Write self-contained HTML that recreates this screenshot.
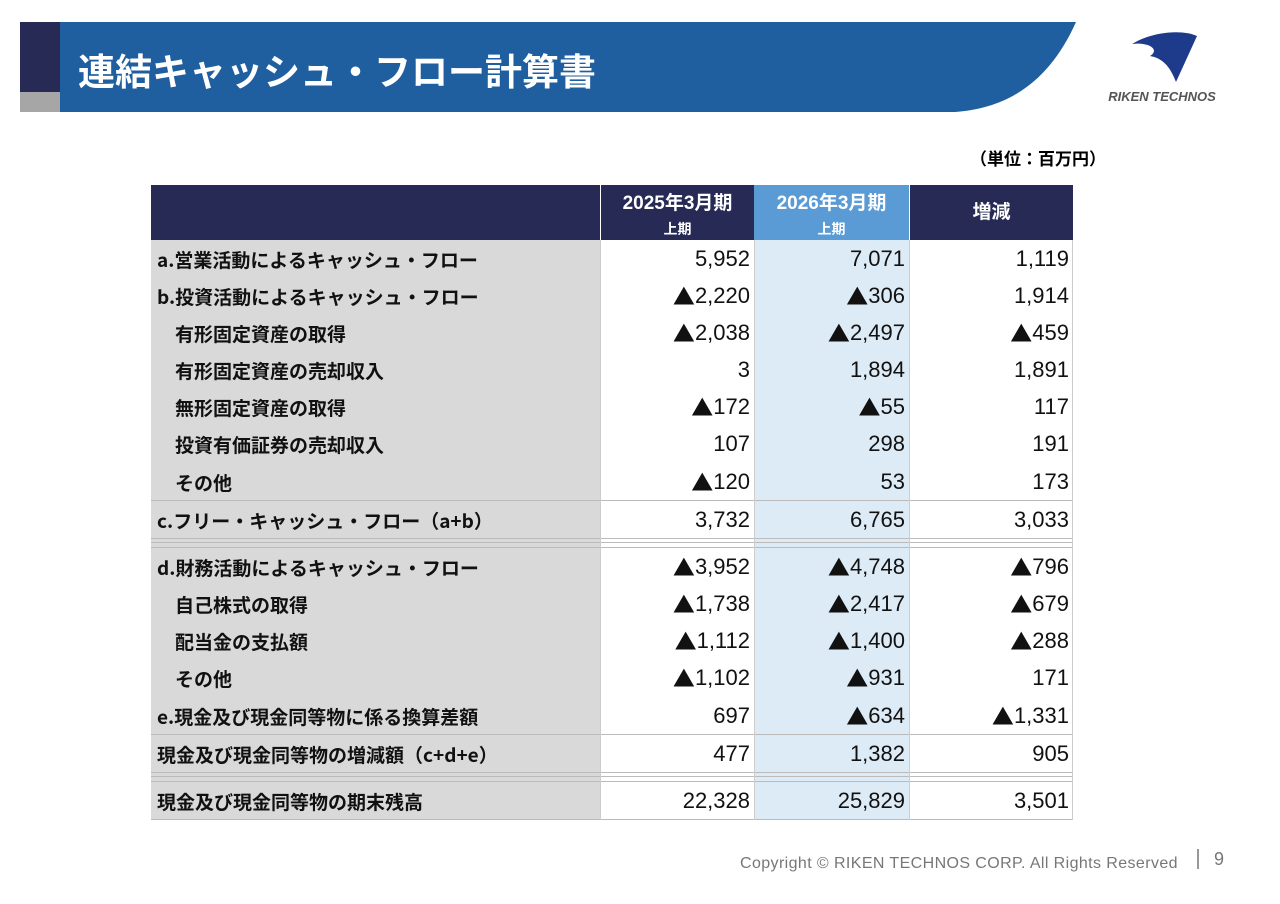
<!DOCTYPE html>
<html><head><meta charset="utf-8"><style>
body{margin:0;width:1280px;height:904px;background:#fff;position:relative;overflow:hidden;font-family:"Liberation Sans","Noto Sans CJK JP",sans-serif;}
.c{position:absolute;box-sizing:border-box;display:flex;align-items:center;font-size:22px;color:#111;}
.lab{left:151px;width:449px;background:#d9d9d9;padding-left:6px;font-size:19px;font-weight:bold;font-family:"Noto Sans CJK JP","Liberation Sans",sans-serif;}
.ind{padding-left:24px;}
.v{justify-content:flex-end;padding-right:4px;}
.tri{font-family:"Noto Sans CJK JP",sans-serif;font-size:22px;}
.c1{left:600px;width:154px;background:#fff;}
.c2{left:754px;width:155px;background:#ddebf6;}
.c3{left:909px;width:164px;background:#fff;}
.h{position:absolute;color:#fff;font-weight:bold;text-align:center;box-sizing:border-box;}
.line{position:absolute;left:151px;width:922px;height:1px;background:#bbb;}
</style></head><body>
<svg style="position:absolute;left:0;top:0" width="1280" height="120">
<rect x="20" y="22" width="40" height="70" fill="#262a54"/>
<rect x="20" y="92" width="40" height="20" fill="#a6a6a6"/>
<path d="M60 22 L1076 22 C1050 80 1010 108 955 112 L60 112 Z" fill="#1f5f9f"/>
<path d="M1132 44 C1155 30 1185 30 1197 36 L1176 82 C1170 66 1162 58 1150 56 C1160 50 1150 42 1132 44 Z" fill="#1e3a8a"/>
<text x="1162" y="101" font-family="Liberation Sans" font-weight="bold" font-style="italic" font-size="13" fill="#555" text-anchor="middle">RIKEN TECHNOS</text>
</svg>
<div style="position:absolute;left:78px;top:44px;color:#fff;font-size:37px;font-weight:bold;font-family:'Noto Sans CJK JP',sans-serif;line-height:50px">連結キャッシュ・フロー計算書</div>
<div style="position:absolute;left:970px;top:145px;font-size:17px;font-weight:bold">（単位：百万円）</div>

<div class="h" style="left:151px;top:185px;width:449px;height:55px;background:#262a54"></div>
<div class="h" style="left:600px;top:185px;width:154px;height:55px;background:#262a54;border-left:1px solid #fff"><div style="font-size:19px;margin-top:3px">2025年3月期</div><div style="font-size:14px;margin-top:4px">上期</div></div>
<div class="h" style="left:754px;top:185px;width:155px;height:55px;background:#5b9bd5"><div style="font-size:19px;margin-top:3px">2026年3月期</div><div style="font-size:14px;margin-top:4px">上期</div></div>
<div class="h" style="left:909px;top:185px;width:164px;height:55px;background:#262a54;border-left:1px solid #fff;line-height:55px;font-size:19px">増減</div>

<div id="rows"></div>
<div style="position:absolute;left:740px;top:855px;font-size:16px;color:#777;letter-spacing:0.4px">Copyright © RIKEN TECHNOS CORP. All Rights Reserved</div>
<div style="position:absolute;left:1197px;top:849px;width:2px;height:20px;background:#999"></div>
<div style="position:absolute;left:1214px;top:849px;font-size:18px;color:#777">9</div>
<script>
const labels=["a.営業活動によるキャッシュ・フロー","b.投資活動によるキャッシュ・フロー","有形固定資産の取得","有形固定資産の売却収入","無形固定資産の取得","投資有価証券の売却収入","その他","c.フリー・キャッシュ・フロー（a+b）","d.財務活動によるキャッシュ・フロー","自己株式の取得","配当金の支払額","その他","e.現金及び現金同等物に係る換算差額","現金及び現金同等物の増減額（c+d+e）","現金及び現金同等物の期末残高"];
const fy2025=["5,952","▲2,220","▲2,038","3","▲172","107","▲120","3,732","▲3,952","▲1,738","▲1,112","▲1,102","697","477","22,328"];
const fy2026=["7,071","▲306","▲2,497","1,894","▲55","298","53","6,765","▲4,748","▲2,417","▲1,400","▲931","▲634","1,382","25,829"];
const change=["1,119","1,914","▲459","1,891","117","191","173","3,033","▲796","▲679","▲288","171","▲1,331","905","3,501"];
const indent=[0,0,1,1,1,1,1,0,0,1,1,1,0,0,0];
const tops=[240,277,314,351,388,425,463,501,548,585,622,659,697,735,782];
const root=document.getElementById('rows');
function cell(cls,top,txt){const d=document.createElement('div');d.className='c '+cls;d.style.top=top+'px';d.style.height='38px';
 if(txt.startsWith('▲')){const s=document.createElement('span');s.className='tri';s.textContent='▲';d.appendChild(s);d.appendChild(document.createTextNode(txt.slice(1)));}
 else d.textContent=txt;
 root.appendChild(d);return d;}
labels.forEach((l,i)=>{
 const a=cell('lab'+(indent[i]?' ind':''),tops[i],l);
 
 
 const b=cell('v c1',tops[i],fy2025[i]);
 
 
 const c=cell('v c2',tops[i],fy2026[i]);
 
 
 const e=cell('v c3',tops[i],change[i]);
 
 
});
[[538,10],[772,10]].forEach(g=>{
 ['lab','c1','c2','c3'].forEach(k=>{const d=cell(k,g[0],'');d.style.height=g[1]+'px';
 
 });
});
[500,538,542,547,734,772,776,781,819].forEach(y=>{const d=document.createElement('div');d.className='line';d.style.top=y+'px';
 
 
 root.appendChild(d);});
[600,754,909,1072].forEach(x=>{const d=document.createElement('div');d.style.cssText='position:absolute;width:1px;background:#ccc;left:'+x+'px;top:240px;height:580px';
 
 
 root.appendChild(d);});
</script>
</body></html>
